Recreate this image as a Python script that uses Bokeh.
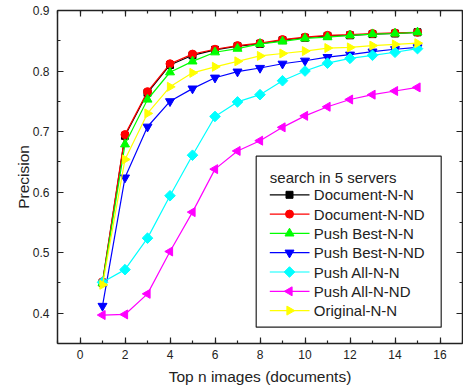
import numpy as np
from bokeh.plotting import figure
from bokeh.models import (Range1d, LinearAxis, SingleIntervalTicker, CustomJSTickFormatter)
from bokeh.core.properties import value
from bokeh.embed import file_html
from bokeh.resources import INLINE

top_n = [1, 2, 3, 4, 5, 6, 7, 8, 9, 10, 11, 12, 13, 14, 15]
document_n_n = [0.450, 0.693, 0.764, 0.810, 0.826, 0.835, 0.841, 0.845, 0.851, 0.855, 0.858, 0.859, 0.861, 0.862, 0.864]
document_n_nd = [0.452, 0.695, 0.766, 0.812, 0.828, 0.836, 0.842, 0.846, 0.852, 0.856, 0.859, 0.860, 0.862, 0.863, 0.864]
push_best_n_n = [0.450, 0.679, 0.753, 0.798, 0.816, 0.831, 0.837, 0.845, 0.849, 0.854, 0.856, 0.859, 0.861, 0.862, 0.864]
push_best_n_nd = [0.412, 0.624, 0.708, 0.750, 0.771, 0.789, 0.799, 0.805, 0.812, 0.817, 0.823, 0.827, 0.832, 0.836, 0.839]
push_all_n_n = [0.451, 0.472, 0.524, 0.594, 0.661, 0.725, 0.749, 0.761, 0.784, 0.800, 0.813, 0.821, 0.826, 0.831, 0.837]
push_all_n_nd = [0.397, 0.398, 0.432, 0.502, 0.567, 0.638, 0.668, 0.685, 0.707, 0.726, 0.741, 0.753, 0.761, 0.767, 0.773]
original_n_n = [0.447, 0.654, 0.730, 0.774, 0.797, 0.807, 0.816, 0.825, 0.829, 0.833, 0.838, 0.839, 0.842, 0.844, 0.846]
series_names = ["Document-N-N", "Document-N-ND", "Push Best-N-N", "Push Best-N-ND",
                "Push All-N-N", "Push All-N-ND", "Original-N-N"]
legend_title = "search in 5 servers"

FONT = "Liberation Sans"
X0, X1, Y0, Y1 = -1, 17, 0.35, 0.9
# reference frame geometry (pixels), used only to place the legend relative to the frame
FL, FR, FT, FB = 57, 462, 10, 343

def px2x(px):
    return X0 + (px - FL) * (X1 - X0) / (FR - FL)

def py2y(py):
    return Y1 - (py - FT) * (Y1 - Y0) / (FB - FT)

p = figure(width=463, height=391, output_backend="svg", toolbar_location=None,
           x_range=Range1d(X0, X1), y_range=Range1d(Y0, Y1),
           min_border_left=57, min_border_right=1, min_border_top=10, min_border_bottom=48,
           x_axis_label="Top n images (documents)", y_axis_label="Precision")
p.grid.visible = False
p.outline_line_color = None
p.background_fill_color = "white"
p.border_fill_color = "white"

p.xaxis.ticker = SingleIntervalTicker(interval=2, num_minor_ticks=2)
p.yaxis.ticker = SingleIntervalTicker(interval=0.1, num_minor_ticks=2)

def style_axis(ax, labels=True):
    ax.axis_line_color = "#222222"
    ax.axis_line_width = 1.5
    ax.major_tick_in = 6
    ax.major_tick_out = 0
    ax.minor_tick_in = 3
    ax.minor_tick_out = 0
    ax.major_tick_line_color = "#222222"
    ax.minor_tick_line_color = "#222222"
    ax.major_tick_line_width = 1.2
    ax.minor_tick_line_width = 1.2
    if labels:
        ax.major_label_text_font = FONT
        ax.major_label_text_font_size = "12px"
        ax.major_label_text_color = "#222222"
        ax.axis_label_text_font = FONT
        ax.axis_label_text_font_size = "15.5px"
        ax.axis_label_text_font_style = "normal"
        ax.axis_label_text_color = "#222222"
    else:
        ax.formatter = CustomJSTickFormatter(code="return '';")
        ax.major_label_text_font_size = "1px"
        ax.major_label_standoff = 0
        ax.axis_label_standoff = 0

style_axis(p.xaxis[0])
style_axis(p.yaxis[0])
p.xaxis[0].major_label_standoff = 6
p.xaxis[0].axis_label_standoff = 6
p.yaxis[0].major_label_standoff = 8
p.yaxis[0].axis_label_standoff = -2

top_ax = LinearAxis(ticker=SingleIntervalTicker(interval=2, num_minor_ticks=2))
right_ax = LinearAxis(ticker=SingleIntervalTicker(interval=0.1, num_minor_ticks=2))
style_axis(top_ax, labels=False)
style_axis(right_ax, labels=False)
p.add_layout(top_ax, "above")
p.add_layout(right_ax, "right")

series_vals = [document_n_n, document_n_nd, push_best_n_n, push_best_n_nd,
               push_all_n_n, push_all_n_nd, original_n_n]
colors = ["black", "#FF0000", "#00FF00", "#0000FF", "#00FFFF", "#FF00FF", "#FFFF00"]
markers = ["square", "circle", "triangle", "inverted_triangle", "square", "triangle", "triangle"]
angles = [0.0, 0.0, 0.0, 0.0, np.pi / 4, np.pi / 2, -np.pi / 2]
sizes = [7, 8, 9, 9, 7.5, 9, 9]

for ys, color, marker, ang, sz in zip(series_vals, colors, markers, angles, sizes):
    p.line(top_n, ys, line_color=color, line_width=1.2)
    p.scatter(top_n, ys, marker=marker, angle=ang, size=sz,
              fill_color=color, line_color=color)

# manual legend (box, title, glyphs, labels)
p.quad(left=px2x(255.7), right=px2x(440.7), top=py2y(155.7), bottom=py2y(326.7),
       fill_color="white", line_color="#222222", line_width=1.2)
p.text(x=[px2x(269.3)], y=[py2y(176.5)], text=[legend_title], text_font=value(FONT),
       text_font_size="15px", text_color="#222222", text_baseline="middle", text_align="left")
row_y = [py2y(194.3 + 19.3 * i) for i in range(len(series_names))]
for i, (name, color, marker, ang, sz) in enumerate(zip(series_names, colors, markers, angles, sizes)):
    yy = row_y[i]
    p.line([px2x(269.3), px2x(309)], [yy, yy], line_color=color, line_width=1.2)
    p.scatter([px2x(289)], [yy], marker=marker, angle=ang, size=sz,
              fill_color=color, line_color=color)
p.text(x=[px2x(313.3)] * len(series_names), y=row_y, text=series_names, text_font=value(FONT),
       text_font_size="15px", text_color="#222222", text_baseline="middle", text_align="left")

open("out.html", "w").write(file_html(p, INLINE))
